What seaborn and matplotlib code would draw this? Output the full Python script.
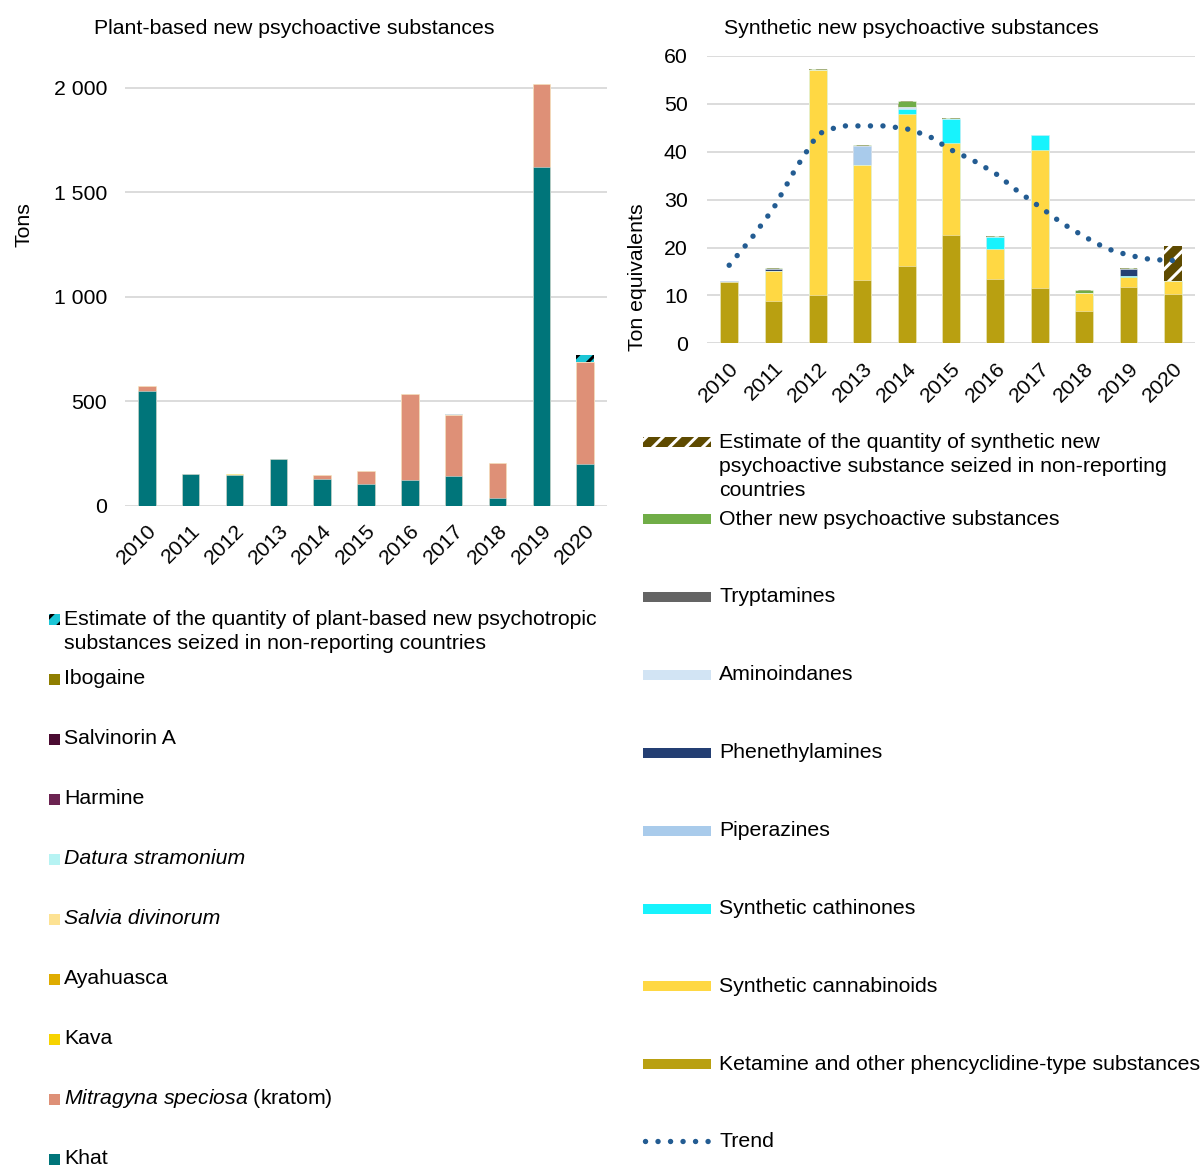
import numpy as np
import pandas as pd
import matplotlib
matplotlib.use("Agg")
import matplotlib.pyplot as plt
from matplotlib.patches import Rectangle
from matplotlib.lines import Line2D
from matplotlib.ticker import FuncFormatter, MultipleLocator
import seaborn as sns

sns.set_theme(style="white")
plt.rcParams["font.family"] = ["Liberation Sans", "DejaVu Sans"]
plt.rcParams["mathtext.fontset"] = "custom"
plt.rcParams["mathtext.it"] = "Liberation Sans:italic"
plt.rcParams["mathtext.rm"] = "Liberation Sans"
plt.rcParams["hatch.linewidth"] = 2.2
plt.rcParams["text.color"] = "black"
plt.rcParams["axes.labelcolor"] = "black"

years = ["2010", "2011", "2012", "2013", "2014", "2015",
         "2016", "2017", "2018", "2019", "2020"]

# Plant-based new psychoactive substances seized (tons)
khat = [550, 152, 150, 223, 129, 107, 126, 145, 40, 1622, 201]
kratom = [26, 0, 0, 0, 19, 60, 408, 289, 164, 397, 489]
kava = [0, 0, 4, 3, 0, 0, 0, 0, 0, 0, 0]
ayahuasca = [0, 0, 0, 0, 0, 0, 0, 0, 0, 0, 0]
salvia = [0, 0, 0, 0, 0, 0, 4, 0, 3, 0, 0]
datura = [0, 0, 0, 0, 0, 0, 0, 4, 0, 0, 0]
harmine = [0, 0, 0, 0, 0, 0, 0, 0, 0, 0, 0]
salvinorin = [0, 0, 0, 0, 0, 0, 0, 0, 0, 0, 0]
ibogaine = [0, 0, 0, 0, 0, 0, 0, 0, 0, 0, 0]
plant_estimate = [0, 0, 0, 0, 0, 0, 0, 0, 0, 0, 32]

# Synthetic new psychoactive substances seized (ton equivalents)
ketamine = [12.7, 8.9, 10.1, 13.2, 16.1, 22.6, 13.4, 11.6, 6.8, 11.8, 10.3]
cannabinoids = [0, 6.1, 47.0, 24.0, 31.8, 19.2, 6.3, 28.8, 3.7, 2.0, 2.8]
cathinones = [0, 0, 0, 0, 1.0, 5.1, 2.6, 3.0, 0, 0.3, 0]
piperazines = [0.3, 0, 0, 4.0, 0, 0, 0, 0, 0, 0, 0]
phenethylamines = [0, 0.6, 0, 0, 0, 0, 0, 0, 0, 1.4, 0]
aminoindanes = [0, 0, 0, 0, 0.4, 0, 0, 0, 0, 0, 0]
tryptamines = [0, 0, 0, 0, 0, 0, 0, 0, 0, 0, 0]
other_nps = [0, 0.15, 0.2, 0.3, 1.3, 0.2, 0.2, 0.2, 0.6, 0.2, 0]
synthetic_estimate = [0, 0, 0, 0, 0, 0, 0, 0, 0, 0, 7.2]

# Trend curve, sampled every half year from 2010 to 2020
trend_pos = [0, 0.5, 1, 1.5, 2, 2.5, 3, 3.5, 4, 4.5, 5,
             5.5, 6, 6.5, 7, 7.5, 8, 8.5, 9, 9.5, 10]
trend = [16.3, 21.9, 28.2, 36.5, 43.7, 45.4, 45.4, 45.4, 44.8, 43.3, 40.4,
         38.2, 35.5, 31.8, 28.5, 25.1, 22.3, 19.8, 18.4, 17.5, 17.3]

TEXT = 15.3
W, H = 1203, 1167
TREND_COLOR = "#235C92"
TREND_STYLE = dict(color=TREND_COLOR, linewidth=3.9, linestyle=(0, (0.01, 2.3)),
                   dash_capstyle="round")

# layers bottom -> top: (label, values, bar style)
plant_layers = [
    ("Khat", khat, dict(color="#00757A")),
    (r"$\mathit{Mitragyna\ speciosa}$ (kratom)", kratom, dict(color="#DE9077")),
    ("Kava", kava, dict(color="#F7D300")),
    ("Ayahuasca", ayahuasca, dict(color="#DFAC00")),
    ("Salvia divinorum", salvia, dict(color="#FDE293")),
    ("Datura stramonium", datura, dict(color="#B6F3F3")),
    ("Harmine", harmine, dict(color="#6C2351")),
    ("Salvinorin A", salvinorin, dict(color="#4A0B31")),
    ("Ibogaine", ibogaine, dict(color="#8F7E00")),
    ("Estimate of the quantity of plant-based new psychotropic\n"
     "substances seized in non-reporting countries", plant_estimate,
     dict(color="#1CC6D6", hatch="//", edgecolor="black")),
]
plant_italic = {"Salvia divinorum", "Datura stramonium"}

synthetic_layers = [
    ("Ketamine and other phencyclidine-type substances", ketamine, dict(color="#B9A011")),
    ("Synthetic cannabinoids", cannabinoids, dict(color="#FFD843")),
    ("Synthetic cathinones", cathinones, dict(color="#17F3FD")),
    ("Piperazines", piperazines, dict(color="#A9CBEB")),
    ("Phenethylamines", phenethylamines, dict(color="#243F73")),
    ("Aminoindanes", aminoindanes, dict(color="#D2E4F4")),
    ("Tryptamines", tryptamines, dict(color="#646464")),
    ("Other new psychoactive substances", other_nps, dict(color="#70AD47")),
    ("Estimate of the quantity of synthetic new\n"
     "psychoactive substance seized in non-reporting\ncountries", synthetic_estimate,
     dict(color="#5E4A00", hatch="//", edgecolor="white")),
]


def draw_stack(ax, layers):
    frame = pd.DataFrame({lab: vals for lab, vals, _ in layers}, index=years)
    tops = frame.cumsum(axis=1)
    for lab, _, style in reversed(layers):
        kw = dict(style)
        if "hatch" in kw:
            kw["linewidth"] = 0
        else:
            kw.setdefault("edgecolor", (1, 1, 1, 0.5))
            kw["linewidth"] = 0.6
        sns.barplot(x=years, y=tops[lab].values, ax=ax, width=0.4,
                    saturation=1, errorbar=None, **kw)


def style_axis(ax, pad):
    for s in ax.spines.values():
        s.set_visible(False)
    ax.yaxis.grid(True, color="#D9D9D9", linewidth=1.3)
    ax.xaxis.grid(False)
    ax.set_axisbelow(True)
    ax.tick_params(axis="both", length=0, labelsize=TEXT, colors="black")
    ax.tick_params(axis="y", pad=pad)
    ax.tick_params(axis="x", pad=11)
    for lab in ax.get_xticklabels():
        lab.set_rotation(45)
        lab.set_ha("right")
        lab.set_va("top")
        lab.set_rotation_mode("anchor")
    ax.set_xlim(-0.5, len(years) - 0.5)
    ax.set_xlabel("")


fig = plt.figure(figsize=(W / 100, H / 100), dpi=100)
axL = fig.add_axes([125 / W, 1 - 506 / H, 482 / W, 439 / H])
axR = fig.add_axes([707 / W, 1 - 343.3 / H, 488 / W, 287.3 / H])

draw_stack(axL, plant_layers)
draw_stack(axR, synthetic_layers)
sns.lineplot(x=trend_pos, y=trend, ax=axR, zorder=5, **TREND_STYLE)

axL.set_ylim(0, 2100)
axL.yaxis.set_major_locator(MultipleLocator(500))
axL.yaxis.set_major_formatter(FuncFormatter(lambda v, p: f"{int(v):,}".replace(",", " ")))
axR.set_ylim(0, 60)
axR.yaxis.set_major_locator(MultipleLocator(10))

style_axis(axL, 13)
style_axis(axR, 14)

axL.set_ylabel("Tons", fontsize=TEXT, color="black")
axL.yaxis.set_label_coords(-0.19, 0.642)
axR.set_ylabel("Ton equivalents", fontsize=TEXT, color="black")
axR.yaxis.set_label_coords(-0.122, 0.229)

fig.text(294 / W, 1 - 28 / H, "Plant-based new psychoactive substances",
         ha="center", va="center", fontsize=TEXT)
fig.text(911 / W, 1 - 28 / H, "Synthetic new psychoactive substances",
         ha="center", va="center", fontsize=TEXT)


def fx(px):
    return px / W


def fy(py):
    return 1 - py / H


LINE_GAP = 24.3

# plant legend: small squares
plant_rows = [619] + [679 + 60 * i for i in range(len(plant_layers) - 1)]
for (lab, _, style), row in zip(reversed(plant_layers), plant_rows):
    n_lines = lab.count("\n") + 1
    sq = Rectangle((fx(49), fy(row + 5.5)), 11 / W, 11 / H, transform=fig.transFigure,
                   facecolor=style["color"], hatch=style.get("hatch"),
                   edgecolor=style.get("edgecolor", "none"), linewidth=0)
    fig.add_artist(sq)
    center = row + (n_lines - 1) * LINE_GAP / 2
    fig.text(fx(64), fy(center), lab, ha="left", va="center", fontsize=TEXT,
             linespacing=1.33,
             fontstyle="italic" if lab in plant_italic else "normal")

# synthetic legend: wide bars
syn_rows = [442] + [519 + 77.9 * i for i in range(len(synthetic_layers) - 1)]
for (lab, _, style), row in zip(reversed(synthetic_layers), syn_rows):
    n_lines = lab.count("\n") + 1
    bar = Rectangle((fx(643), fy(row + 5)), 68 / W, 10 / H, transform=fig.transFigure,
                    facecolor=style["color"], hatch=style.get("hatch"),
                    edgecolor=style.get("edgecolor", "none"), linewidth=0)
    fig.add_artist(bar)
    center = row + (n_lines - 1) * LINE_GAP / 2
    fig.text(fx(719), fy(center), lab, ha="left", va="center", fontsize=TEXT,
             linespacing=1.33)

trend_row = 519 + 77.9 * (len(synthetic_layers) - 1) - 1
fig.add_artist(Line2D([fx(645), fx(708)], [fy(trend_row), fy(trend_row)],
                      transform=fig.transFigure, **TREND_STYLE))
fig.text(fx(719), fy(trend_row), "Trend", ha="left", va="center", fontsize=TEXT)

fig.savefig("out.png", dpi=100, facecolor="white")
